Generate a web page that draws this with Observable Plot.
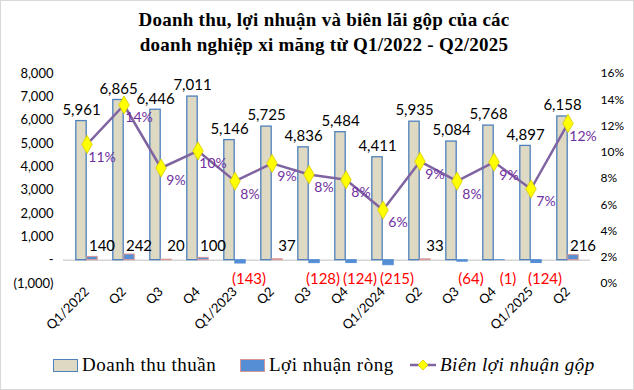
<!DOCTYPE html>
<html>
<head>
<meta charset="utf-8">
<script src="https://cdn.jsdelivr.net/npm/d3@7"></script>
<script src="https://cdn.jsdelivr.net/npm/@observablehq/plot@0.6"></script>
<style>
  html, body { margin: 0; padding: 0; background: #fff; }
  #wrap { position: relative; width: 634px; height: 390px; box-sizing: border-box; border: 1px solid #d9d9d9; overflow: hidden; }
  #title { height: 57px; box-sizing: border-box; padding-top: 6px; padding-left: 14px; text-align: center; font-family: "Liberation Serif", serif; font-weight: bold; font-size: 19px; letter-spacing: 0.25px; line-height: 25px; color: #000; }
  #chart { height: 292px; }
  #legend { position: relative; height: 38px; font-family: "Liberation Serif", serif; font-size: 19px; letter-spacing: 0.5px; color: #000; white-space: nowrap; }
  .item { position: absolute; top: 4px; display: flex; align-items: center; white-space: nowrap; }
  .sw { width: 25px; height: 13px; box-sizing: border-box; margin-right: 4px; flex: none; }
</style>
</head>
<body>
<div id="wrap">
  <div id="title">Doanh thu, lợi nhuận và biên lãi gộp của các<br>doanh nghiệp xi măng từ Q1/2022 - Q2/2025</div>
  <div id="chart"></div>
  <div id="legend">
    <div class="item" style="left:52px"><div class="sw" style="background:#DDD9C3;border:1.5px solid #4F81BD"></div><span>Doanh thu thuần</span></div>
    <div class="item" style="left:239px"><div class="sw" style="background:#558ED5;border:1.5px solid #D99694"></div><span>Lợi nhuận ròng</span></div>
    <div class="item" style="left:408px"><svg width="28" height="14" style="margin-right:3px;flex:none"><line x1="1" y1="7" x2="27" y2="7" stroke="#8064A2" stroke-width="2.5"/><path d="M14 2 L19 7 L14 12 L9 7 Z" fill="#FFFF00" stroke="#D8C800" stroke-width="0.8"/></svg><span style="font-style:italic">Biên lợi nhuận gộp</span></div>
  </div>
</div>
<script>
const quarters = ["Q1/2022","Q2","Q3","Q4","Q1/2023","Q2","Q3","Q4","Q1/2024","Q2","Q3","Q4","Q1/2025","Q2"];
const revenue = [5961, 6865, 6446, 7011, 5146, 5725, 4836, 5484, 4411, 5935, 5084, 5768, 4897, 6158];
const profit = [140, 242, 20, 100, -143, 37, -128, -124, -215, 33, -64, -1, -124, 216];
const grossMargin = [10.6, 13.6, 8.8, 10.1, 7.8, 9.15, 8.3, 7.9, 5.6, 9.3, 7.8, 9.25, 7.2, 12.2];
const leftTicks = [-1000, 0, 1000, 2000, 3000, 4000, 5000, 6000, 7000, 8000];
const rightTicks = [0, 2, 4, 6, 8, 10, 12, 14, 16];

const yMin = -1000, yMax = 8000, pMax = 16;
const toY = p => yMin + p / pMax * (yMax - yMin);
const fromY = v => (v - yMin) / (yMax - yMin) * pMax;
const num = d3.format(",");
const acct = v => v === 0 ? "-" : v < 0 ? `(${num(-v)})` : num(v);

const data = quarters.map((q, i) => ({ i, q, rev: revenue[i], prof: profit[i], m: grossMargin[i] }));

const half = 18.8;
const plot = Plot.plot({
  width: 632,
  height: 292,
  marginTop: 15,
  marginBottom: 67,
  marginLeft: 62,
  marginRight: 43,
  x: { type: "band", domain: d3.range(quarters.length), padding: 0, axis: null, label: null },
  y: { domain: [yMin, yMax], axis: null, label: null },
  style: { fontFamily: "Lato, sans-serif", fontSize: "13px", color: "#000", background: "transparent" },
  marks: [
    Plot.ruleY([0], { stroke: "#bfbfbf", strokeWidth: 1 }),
    Plot.barY(data, { x: "i", y: "rev", fill: "#DDD9C3", stroke: "#4F81BD", strokeWidth: 1.3, insetLeft: 7.8, insetRight: half }),
    Plot.barY(data, { x: "i", y: "prof", fill: "#558ED5", stroke: d => d.prof > 0 ? "#D99694" : "#558ED5", strokeWidth: 1, insetLeft: half, insetRight: 7.8 }),
    Plot.lineY(data, { x: "i", y: d => toY(d.m), stroke: "#8064A2", strokeWidth: 2.5 }),
    Plot.dot(data, { x: "i", y: d => toY(d.m), symbol: "diamond", r: 5.5, fill: "#FFFF00", stroke: "#D8C800", strokeWidth: 0.8 }),
    Plot.text(data, { x: "i", y: "rev", text: d => num(d.rev), dx: -5.5, dy: -11, fontSize: 15, fill: "#000" }),
    Plot.text(data.filter(d => d.prof >= 0), { x: "i", y: d => 0, text: d => num(d.prof), dx: 15, dy: -14, fontSize: 15, fill: "#000" }),
    Plot.text(data.filter(d => d.prof < 0), { x: "i", y: d => 0, text: d => acct(d.prof), dx: 14, dy: 19, fontSize: 15, fill: "#FF0000" }),
    Plot.text(data, { x: "i", y: d => toY(d.m), text: d => Math.round(d.m) + "%", dx: 15, dy: 13, fontSize: 14, fill: "#7030A0" }),
    Plot.axisY({ anchor: "left", ticks: leftTicks, tickFormat: acct, tickSize: 0, tickPadding: 10, fontSize: 13, label: null }),
    Plot.axisY({ anchor: "right", ticks: rightTicks.map(toY), tickFormat: v => Math.round(fromY(v)) + "%", tickSize: 0, tickPadding: 10, fontSize: 12, label: null }),
    Plot.axisX({ tickRotate: -45, tickSize: 0, tickPadding: 6, tickFormat: i => quarters[i], fontSize: 13, label: null })
  ]
});
document.getElementById("chart").appendChild(plot);
</script>
</body>
</html>
